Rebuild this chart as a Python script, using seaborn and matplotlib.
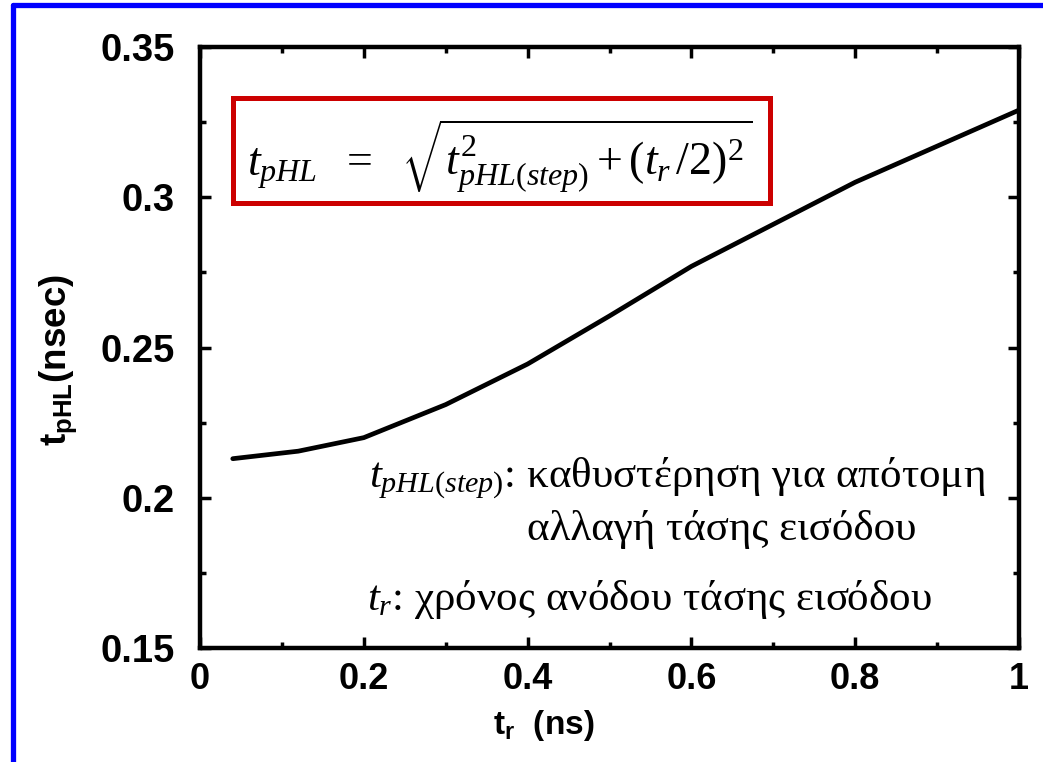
import matplotlib
matplotlib.use("Agg")
import matplotlib.pyplot as plt
import seaborn as sns
import pandas as pd
from matplotlib.patches import Rectangle
from matplotlib.lines import Line2D
from matplotlib.ticker import MultipleLocator

# Data
tr_ns = [0.04, 0.12, 0.2, 0.3, 0.4, 0.5, 0.6, 0.7, 0.8, 0.9, 1.0]
tphl_ns = [0.213, 0.2155, 0.220, 0.231, 0.2445, 0.2605, 0.277, 0.291, 0.305, 0.317, 0.329]
x_ticks = [0, 0.2, 0.4, 0.6, 0.8, 1.0]
x_tick_labels = ["0", "0.2", "0.4", "0.6", "0.8", "1"]
y_ticks = [0.15, 0.2, 0.25, 0.3, 0.35]
y_tick_labels = ["0.15", "0.2", "0.25", "0.3", "0.35"]

df = pd.DataFrame({"tr": tr_ns, "tphl": tphl_ns})

sns.set_style("ticks")
plt.rcParams["font.family"] = ["Liberation Sans", "DejaVu Sans"]
plt.rcParams["text.color"] = "black"
plt.rcParams["axes.labelcolor"] = "black"
plt.rcParams["xtick.color"] = "black"
plt.rcParams["ytick.color"] = "black"
plt.rcParams["mathtext.fontset"] = "custom"
plt.rcParams["mathtext.rm"] = "Liberation Serif"
plt.rcParams["mathtext.it"] = "Liberation Serif:italic"
plt.rcParams["mathtext.bf"] = "Liberation Sans:bold"

fig = plt.figure(figsize=(10.43, 7.62), dpi=100)
ax = fig.add_axes([200 / 1043, 1 - 648 / 762, 819 / 1043, 601 / 762])

sns.lineplot(data=df, x="tr", y="tphl", ax=ax, color="black", linewidth=3.4)

ax.set_xlim(0, 1)
ax.set_ylim(0.15, 0.35)
ax.set_xticks(x_ticks)
ax.set_xticklabels(x_tick_labels)
ax.set_yticks(y_ticks)
ax.set_yticklabels(y_tick_labels)
ax.xaxis.set_minor_locator(MultipleLocator(0.1))
ax.yaxis.set_minor_locator(MultipleLocator(0.025))

for s in ax.spines.values():
    s.set_visible(True)
    s.set_linewidth(3.2)
    s.set_color("black")

ax.tick_params(which="both", direction="in", top=True, right=True, width=2.5, color="black")
ax.tick_params(which="major", length=8)
ax.tick_params(which="minor", length=4)
ax.tick_params(axis="y", which="major", pad=18)
ax.tick_params(axis="x", which="major", pad=10)
for lab in ax.get_yticklabels():
    lab.set_fontsize(27.5)
    lab.set_fontweight("bold")
for lab in ax.get_xticklabels():
    lab.set_fontsize(26)
    lab.set_fontweight("bold")

ax.set_xlabel(r"$\mathbf{t_r}$  (ns)", fontsize=24, fontweight="bold", labelpad=6)
ax.xaxis.set_label_coords(0.42, -0.10)
ax.set_ylabel(r"$\mathbf{t_{pHL}}$(nsec)", fontsize=26.5, fontweight="bold")
ax.yaxis.set_label_coords(-0.148, 0.479)

# Formula box
ax.add_patch(Rectangle((0.040, 0.740), 0.656, 0.175, transform=ax.transAxes,
                       fill=False, edgecolor="#CC0000", linewidth=3.6, zorder=5))
ax.text(0.366, 0.818, r"$t_{pHL}\ \ =\ \ \sqrt{t^{2}_{pHL(step)} + (t_r\,/2)^{2}}$",
        transform=ax.transAxes, ha="center", va="center", fontsize=33, zorder=6)

serif = ["Liberation Serif", "DejaVu Serif"]
ax.text(0.206, 0.283, r"$t_{pHL(step)}$: καθυστέρηση για απότομη", transform=ax.transAxes,
        ha="left", va="center", fontsize=31, family=serif)
ax.text(0.399, 0.198, "αλλαγή τάσης εισόδου", transform=ax.transAxes,
        ha="left", va="center", fontsize=31, family=serif)
ax.text(0.204, 0.080, r"$t_r$: χρόνος ανόδου τάσης εισόδου", transform=ax.transAxes,
        ha="left", va="center", fontsize=31, family=serif)

# Blue slide border (top and left)
fig.add_artist(Line2D([12.5 / 1043, 12.5 / 1043], [0, 1 - 5 / 762], transform=fig.transFigure,
                      color="#0000FF", linewidth=3.8))
fig.add_artist(Line2D([12.5 / 1043, 1], [1 - 5 / 762, 1 - 5 / 762], transform=fig.transFigure,
                      color="#0000FF", linewidth=3.8))

fig.savefig("out.png", dpi=100)
